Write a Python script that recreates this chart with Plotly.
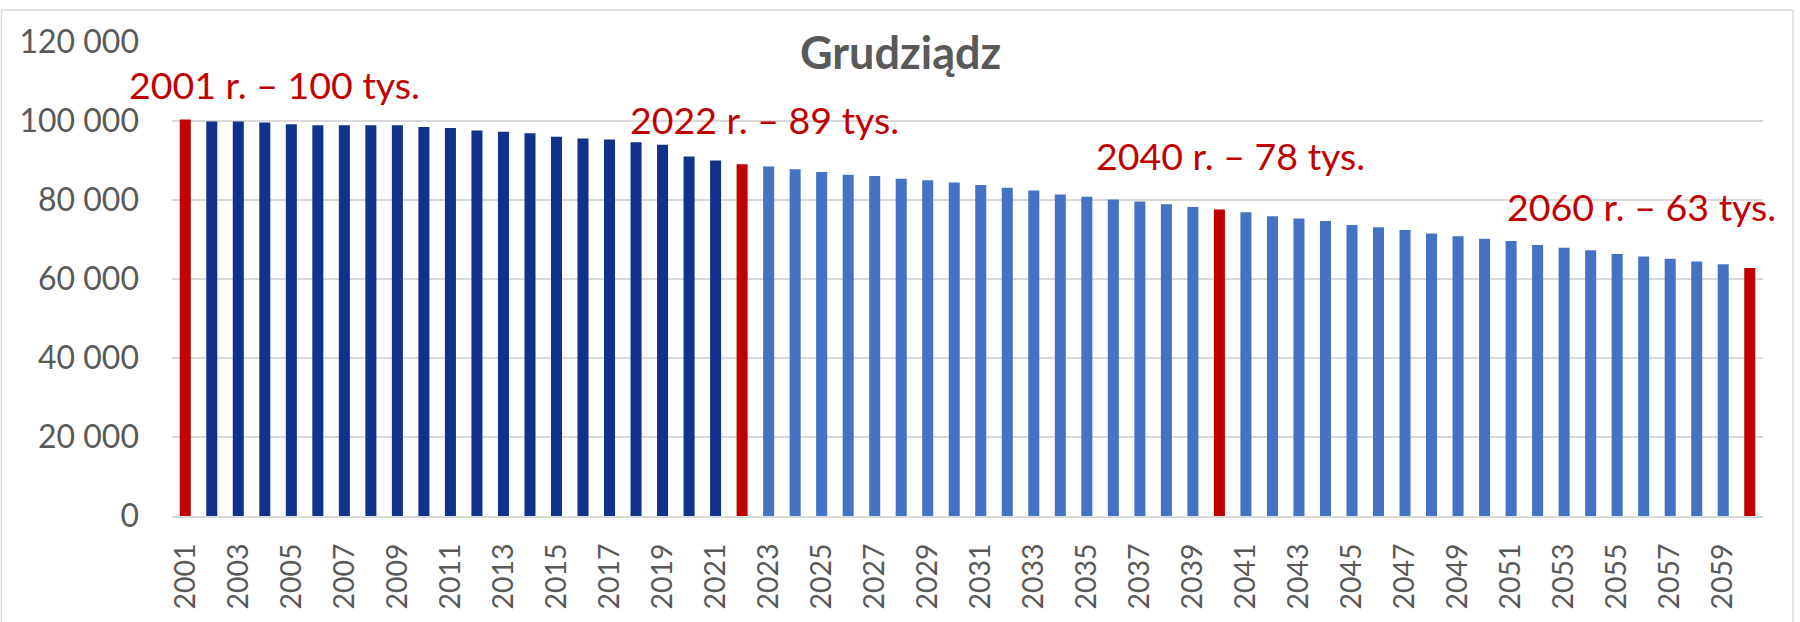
import plotly.graph_objects as go

years = list(range(2001, 2061))
population = [
    100400, 99900, 99900, 99600, 99200, 98900, 98900, 98900, 98900, 98500,
    98200, 97600, 97300, 96900, 96000, 95600, 95300, 94600, 94000, 91000,
    90000, 89050, 88500, 87800, 87100, 86400, 86100, 85400, 85000, 84400,
    83800, 83100, 82400, 81400, 80800, 80100, 79600, 78900, 78200, 77600,
    76900, 75900, 75300, 74700, 73700, 73100, 72400, 71500, 70800, 70200,
    69600, 68600, 67900, 67300, 66300, 65700, 65100, 64400, 63750, 62800,
]
last_observed_year = 2021
highlight_years = [2001, 2022, 2040, 2060]
highlight_labels = ["2001 r. – 100 tys.", "2022 r. – 89 tys.", "2040 r. – 78 tys.", "2060 r. – 63 tys."]
y_ticks = [0, 20000, 40000, 60000, 80000, 100000, 120000]
title_text = "Grudziądz"

NAVY = "#10318C"
LIGHT = "#4472C4"
RED = "#C00000"
GREY = "#595959"
GRID = "#D9D9D9"
FONT = "Lato"

colors = []
for y in years:
    if y in highlight_years:
        colors.append(RED)
    elif y <= last_observed_year:
        colors.append(NAVY)
    else:
        colors.append(LIGHT)

x_cats = [str(y) for y in years]

fig = go.Figure(go.Bar(
    x=x_cats, y=population,
    marker=dict(color=colors, line=dict(width=0)),
    hoverinfo="x+y",
))

L, R, T, B = 172, 37, 42, 106
W, H = 1800, 622
pw, ph = W - L - R, H - T - B

def px_to_paper_x(px):
    return (px - L) / pw

def px_to_paper_y(py):
    return (H - B - py) / ph

# annotation placement (pixel shifts relative to the bar top)
ann_cfg = {
    2001: dict(xanchor="left", xshift=-58, yshift=35),
    2022: dict(xanchor="left", xshift=-114, yshift=45),
    2040: dict(xanchor="left", xshift=-125, yshift=54),
    2060: dict(xanchor="right", xshift=28, yshift=61),
}
annotations = []
for yr, lab in zip(highlight_years, highlight_labels):
    idx = years.index(yr)
    val = population[idx]
    c = ann_cfg[yr]
    annotations.append(dict(
        x=idx, y=val, xref="x", yref="y", text=lab, showarrow=False,
        xanchor=c["xanchor"], yanchor="middle", xshift=c["xshift"], yshift=c["yshift"],
        font=dict(family=FONT, size=37.5, color=RED),
    ))

annotations.append(dict(
    x=px_to_paper_x(900), y=px_to_paper_y(52), xref="paper", yref="paper",
    text="<b>" + title_text + "</b>",
    showarrow=False, font=dict(family=FONT, size=45, color=GREY),
    xanchor="center", yanchor="middle",
))

fig.update_layout(
    width=W, height=H,
    margin=dict(l=L, r=R, t=T, b=B, autoexpand=False),
    paper_bgcolor="white", plot_bgcolor="white",
    separators=". ",
    bargap=0.584,
    showlegend=False,
    annotations=annotations,
    shapes=[dict(
        type="rect", xref="paper", yref="paper",
        x0=px_to_paper_x(1.5), x1=px_to_paper_x(1793),
        y0=px_to_paper_y(660), y1=px_to_paper_y(10),
        line=dict(color=GRID, width=1.5), fillcolor="rgba(0,0,0,0)", layer="below",
    )],
    xaxis=dict(
        type="category", range=[-0.5, len(years) - 0.5], autorange=False,
        tickmode="array", tickvals=x_cats[::2], ticktext=x_cats[::2],
        tickangle=-90,
        tickfont=dict(family=FONT, size=28.5, color=GREY),
        showgrid=False, showline=True, linecolor=GRID, linewidth=2,
        ticks="", ticklabelstandoff=14,
    ),
    yaxis=dict(
        range=[0, 120000], autorange=False, tickvals=y_ticks, tickformat=",d",
        tickfont=dict(family=FONT, size=32, color=GREY),
        showgrid=True, gridcolor=GRID, gridwidth=2,
        zeroline=False, showline=False, ticks="", ticklabelstandoff=32,
    ),
)

fig.write_html(
    "out.html",
    config={"displayModeBar": False},
    post_script="document.body.style.margin='0';document.body.style.overflow='hidden';",
)
